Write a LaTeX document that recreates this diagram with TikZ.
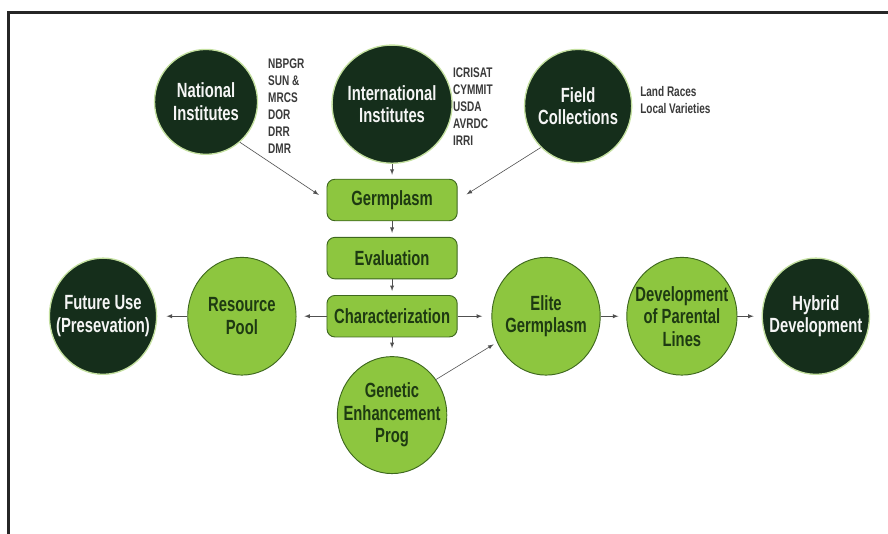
\documentclass[tikz,border=0pt]{standalone}
\usepackage{fontspec}
\usetikzlibrary{shapes.geometric}
\newfontfamily\condfont{Liberation Sans}[FakeStretch=0.72]
\definecolor{leaf}{RGB}{141,198,63}
\definecolor{leafline}{RGB}{62,104,30}
\definecolor{leaftext}{RGB}{30,58,18}
\definecolor{forest}{RGB}{21,46,27}
\definecolor{halo}{RGB}{196,224,160}
\definecolor{linkgray}{RGB}{80,80,80}
\definecolor{listgray}{RGB}{58,58,58}
\begin{document}
\begin{tikzpicture}[node distance=1.54cm, >=latex]
      % Styles
      \tikzstyle{box} = [rectangle, draw=leafline, fill=leaf, text=leaftext, line width=0.7pt,
                        text centered, rounded corners=6pt, minimum width=3.45cm, minimum height=1.1cm,
                        font=\condfont\bfseries\fontsize{15.5}{17}\selectfont]
      \tikzstyle{lightcircle} = [ellipse, draw=leafline, fill=leaf, text=leaftext, line width=0.7pt,
                        align=center, inner sep=-10pt, minimum width=2.87cm, minimum height=3.12cm,
                        font=\condfont\bfseries\fontsize{15.5}{17}\selectfont]
      \tikzstyle{darkcircle} = [ellipse, draw=halo, fill=forest, text=white!92!gray, line width=1pt,
                        align=center, inner sep=-10pt, minimum width=2.84cm, minimum height=3.08cm,
                        font=\condfont\bfseries\fontsize{15.5}{17}\selectfont]
      \tikzstyle{list} = [anchor=north west, inner sep=0pt, align=left, text=listgray,
                        font=\condfont\bfseries\fontsize{10.5}{12.8}\selectfont]
      \tikzstyle{link} = [->, draw=linkgray, line width=0.45pt, shorten >=3pt]
      \useasboundingbox (0,0) rectangle (23.532,-14.125);
      % Frame
      \draw[line width=2.2pt, black!85] (0.225,-14.3) |- (23.7,-0.32);
      % Nodes
      \node[box] (germplasm) at (10.39,-5.30) {Germplasm};
      \node[box, below of=germplasm] (evaluation) {Evaluation};
      \node[box, below of=evaluation] (characterization) {Characterization};
      \node[lightcircle, below of=characterization, node distance=2.62cm, minimum width=2.9cm, minimum height=3.1cm] (genetic) {Genetic\\Enhancement\\Prog};
      \node[lightcircle, left of=characterization, node distance=3.98cm] (pool) {Resource\\Pool};
      \node[darkcircle, left of=pool, node distance=3.68cm] (future) {Future Use\\(Presevation)};
      \node[lightcircle, right of=characterization, node distance=4.08cm] (elite) {Elite\\Germplasm};
      \node[lightcircle, right of=elite, node distance=3.60cm, minimum width=2.92cm] (parental) {Development\\of Parental\\Lines};
      \node[darkcircle, right of=parental, node distance=3.55cm] (hybrid) {Hybrid\\Development};
      \node[darkcircle, above of=germplasm, node distance=2.54cm, minimum width=3.18cm, minimum height=3.13cm] (international) {International\\Institutes};
      \node[darkcircle, minimum width=2.73cm, minimum height=2.78cm] (national) at (5.46,-2.70) {National\\Institutes};
      \node[darkcircle, minimum width=2.84cm, minimum height=3.0cm] (field) at (15.32,-2.81) {Field\\Collections};
      \node[list] (nationallist) at (7.10,-1.56) {NBPGR\\SUN \&\\MRCS\\DOR\\DRR\\DMR};
      \node[list] (internationallist) at (12.0,-1.78) {ICRISAT\\CYMMIT\\USDA\\AVRDC\\IRRI};
      \node[list] (fieldlist) at (16.96,-2.28) {Land Races\\Local Varieties};

      % Arrows
      \draw[link] (international) -- (germplasm);
      \draw[link] (germplasm) -- (evaluation);
      \draw[link] (evaluation) -- (characterization);
      \draw[link, shorten >=6pt] (characterization) -- (genetic);
      \draw[link, shorten >=6pt] (characterization) -- (pool);
      \draw[link, shorten >=7pt] (pool) -- (future);
      \draw[link, shorten >=7pt] (characterization) -- (elite);
      \draw[link, shorten >=6pt] (elite) -- (parental);
      \draw[link, shorten >=6pt] (parental) -- (hybrid);
      \draw[link] (genetic.39) -- (elite.208);
      \draw[link, shorten >=7pt] (national.-50) -- (germplasm.west);
      \draw[link, shorten >=8pt] (field.-132) -- (germplasm.east);
  \end{tikzpicture}
\end{document}
